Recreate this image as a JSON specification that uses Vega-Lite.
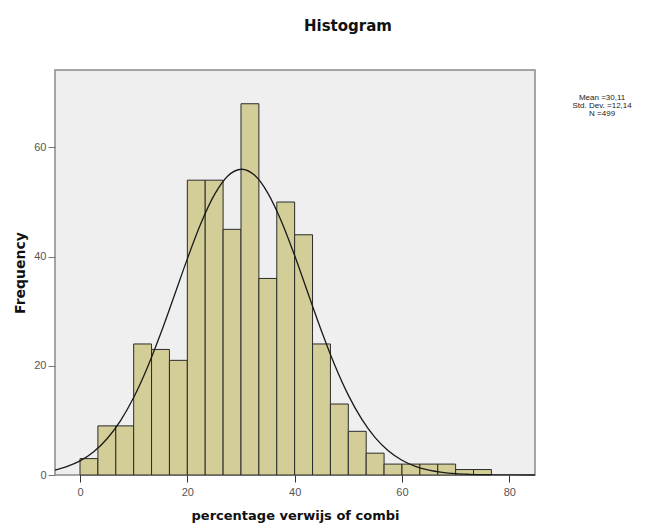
{
  "$schema": "https://vega.github.io/schema/vega-lite/v6.json",
  "width": 480,
  "height": 405,
  "autosize": {"type": "none"},
  "padding": {"left": 55, "top": 70, "right": 130, "bottom": 53},
  "background": "white",
  "config": {
    "view": {"fill": "#EFEFEF", "stroke": "#8a8a8a", "strokeWidth": 1.5},
    "font": "Liberation Sans"
  },
  "title": {
    "text": "Histogram",
    "font": "DejaVu Sans",
    "fontSize": 15,
    "fontWeight": "bold",
    "color": "#111",
    "anchor": "middle",
    "dx": 53,
    "offset": 36
  },
  "datasets": {
    "bins": [
      {"start": 0.0, "end": 3.333, "count": 3},
      {"start": 3.333, "end": 6.667, "count": 9},
      {"start": 6.667, "end": 10.0, "count": 9},
      {"start": 10.0, "end": 13.333, "count": 24},
      {"start": 13.333, "end": 16.667, "count": 23},
      {"start": 16.667, "end": 20.0, "count": 21},
      {"start": 20.0, "end": 23.333, "count": 54},
      {"start": 23.333, "end": 26.667, "count": 54},
      {"start": 26.667, "end": 30.0, "count": 45},
      {"start": 30.0, "end": 33.333, "count": 68},
      {"start": 33.333, "end": 36.667, "count": 36},
      {"start": 36.667, "end": 40.0, "count": 50},
      {"start": 40.0, "end": 43.333, "count": 44},
      {"start": 43.333, "end": 46.667, "count": 24},
      {"start": 46.667, "end": 50.0, "count": 13},
      {"start": 50.0, "end": 53.333, "count": 8},
      {"start": 53.333, "end": 56.667, "count": 4},
      {"start": 56.667, "end": 60.0, "count": 2},
      {"start": 60.0, "end": 63.333, "count": 2},
      {"start": 63.333, "end": 66.667, "count": 2},
      {"start": 66.667, "end": 70.0, "count": 2},
      {"start": 70.0, "end": 73.333, "count": 1},
      {"start": 73.333, "end": 76.667, "count": 1}
    ],
    "curve": [
      {"x": -4.66, "y": 0.9},
      {"x": -2.5, "y": 1.52},
      {"x": 0, "y": 2.58},
      {"x": 2.5, "y": 4.22},
      {"x": 5, "y": 6.6},
      {"x": 7.5, "y": 9.88},
      {"x": 10, "y": 14.2},
      {"x": 12.5, "y": 19.56},
      {"x": 15, "y": 25.81},
      {"x": 17.5, "y": 32.65},
      {"x": 20, "y": 39.59},
      {"x": 22.5, "y": 46.01},
      {"x": 25, "y": 51.25},
      {"x": 27.5, "y": 54.72},
      {"x": 30.11, "y": 56.0},
      {"x": 32.5, "y": 54.93},
      {"x": 35, "y": 51.64},
      {"x": 37.5, "y": 46.53},
      {"x": 40, "y": 40.19},
      {"x": 42.5, "y": 33.26},
      {"x": 45, "y": 26.39},
      {"x": 47.5, "y": 20.07},
      {"x": 50, "y": 14.63},
      {"x": 52.5, "y": 10.22},
      {"x": 55, "y": 6.84},
      {"x": 57.5, "y": 4.39},
      {"x": 60, "y": 2.7},
      {"x": 62.5, "y": 1.59},
      {"x": 65, "y": 0.9},
      {"x": 67.5, "y": 0.49},
      {"x": 70, "y": 0.25},
      {"x": 72.5, "y": 0.13},
      {"x": 75, "y": 0.06},
      {"x": 77.5, "y": 0.03},
      {"x": 80, "y": 0.01},
      {"x": 84.79, "y": 0.0}
    ],
    "stats": [
      {"x": 97.3, "y": 69.0, "label": "Mean =30,11"},
      {"x": 97.3, "y": 67.55, "label": "Std. Dev. =12,14"},
      {"x": 97.3, "y": 66.1, "label": "N =499"}
    ]
  },
  "layer": [
    {
      "data": {"name": "bins"},
      "mark": {"type": "bar", "fill": "#D3CE97", "stroke": "#2b2b2b", "strokeWidth": 1, "binSpacing": 0},
      "encoding": {
        "x": {
          "field": "start",
          "type": "quantitative",
          "scale": {"domain": [-4.66, 84.79], "nice": false, "zero": false},
          "axis": {
            "title": "percentage verwijs of combi",
            "values": [0, 20, 40, 60, 80],
            "grid": false,
            "domain": false,
            "tickSize": 7,
            "tickColor": "#333",
            "tickWidth": 1,
            "labelFont": "Liberation Sans",
            "labelFontSize": 11,
            "labelColor": "#555",
            "labelPadding": 4,
            "titleFont": "DejaVu Sans",
            "titleFontSize": 13,
            "titleFontWeight": "bold",
            "titleColor": "#111",
            "titlePadding": 12
          }
        },
        "x2": {"field": "end"},
        "y": {
          "field": "count",
          "type": "quantitative",
          "scale": {"domain": [0, 74.18], "nice": false},
          "axis": {
            "title": "Frequency",
            "values": [0, 20, 40, 60],
            "grid": false,
            "domain": false,
            "tickSize": 7,
            "tickColor": "#777",
            "tickWidth": 1,
            "labelFont": "Liberation Sans",
            "labelFontSize": 11,
            "labelColor": "#555",
            "labelPadding": 2,
            "titleFont": "DejaVu Sans",
            "titleFontSize": 14,
            "titleFontWeight": "bold",
            "titleColor": "#111",
            "titlePadding": 6
          }
        },
        "y2": {"datum": 0}
      }
    },
    {
      "data": {"name": "curve"},
      "mark": {"type": "line", "color": "#1a1a1a", "strokeWidth": 1.3, "interpolate": "monotone"},
      "encoding": {
        "x": {"field": "x", "type": "quantitative"},
        "y": {"field": "y", "type": "quantitative"}
      }
    },
    {
      "data": {"name": "stats"},
      "mark": {"type": "text", "font": "Liberation Sans", "fontSize": 8, "color": "#222", "align": "center", "baseline": "middle", "clip": false},
      "encoding": {
        "x": {"field": "x", "type": "quantitative"},
        "y": {"field": "y", "type": "quantitative"},
        "text": {"field": "label"}
      }
    }
  ]
}
